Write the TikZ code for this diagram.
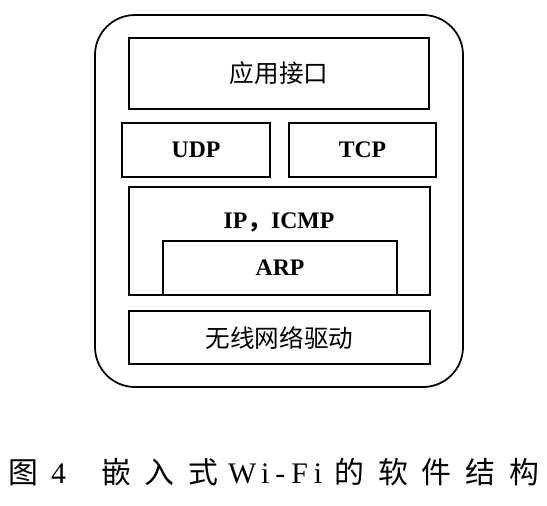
\documentclass[tikz,border=0pt]{standalone}
\usepackage{fontspec}
\setmainfont{Liberation Serif}
\newfontfamily\cjk{Noto Sans CJK SC}
\newfontfamily\capcjk[LetterSpace=46]{Noto Sans CJK SC}
\newfontfamily\caplat[LetterSpace=20]{Liberation Serif}
\begin{document}
\begin{tikzpicture}[x=0.02cm,y=-0.02cm,
		layer/.style={draw, line width=1pt, inner sep=0pt},
		cntext/.style={font=\cjk\fontsize{14}{16}\selectfont},
		entext/.style={font=\bfseries\fontsize{13.5}{16}\selectfont}]
		\useasboundingbox (0,0) rectangle (547,505);
		%outer frame
		\draw[line width=1pt, rounded corners=0.8cm] (95,15) rectangle (463,387);
		%application layer
		\node[layer, cntext, minimum width=6cm, minimum height=1.42cm] (app) at (279,73.5) {应用接口};
		%transport layer
		\node[layer, entext, minimum width=2.96cm, minimum height=1.08cm] (udp) at (196,150) {UDP};
		\node[layer, entext, minimum width=2.94cm, minimum height=1.08cm] (tcp) at (362.5,150) {TCP};
		%network layer
		\node[layer, minimum width=6.02cm, minimum height=2.16cm] (ip) at (279.5,241) {};
		\node[entext] (iplabel) at (279,222) {IP{\cjk ，}ICMP};
		\node[layer, entext, minimum width=4.68cm, minimum height=1.08cm] (arp) at (280,268) {ARP};
		%driver layer
		\node[layer, cntext, minimum width=6.02cm, minimum height=1.06cm] (drv) at (279.5,337.5) {无线网络驱动};
		%caption
		\node[font=\fontsize{17}{20}\selectfont, anchor=west, inner sep=0pt] (caption) at (8,472)
			{{\capcjk 图}\hspace{0.26cm}{\caplat 4}\hspace{0.7cm}{\capcjk 嵌入式}\hspace{0.2cm}{\caplat Wi-Fi}\hspace{0.25cm}{\capcjk 的软件结构}};
	\end{tikzpicture}
\end{document}
